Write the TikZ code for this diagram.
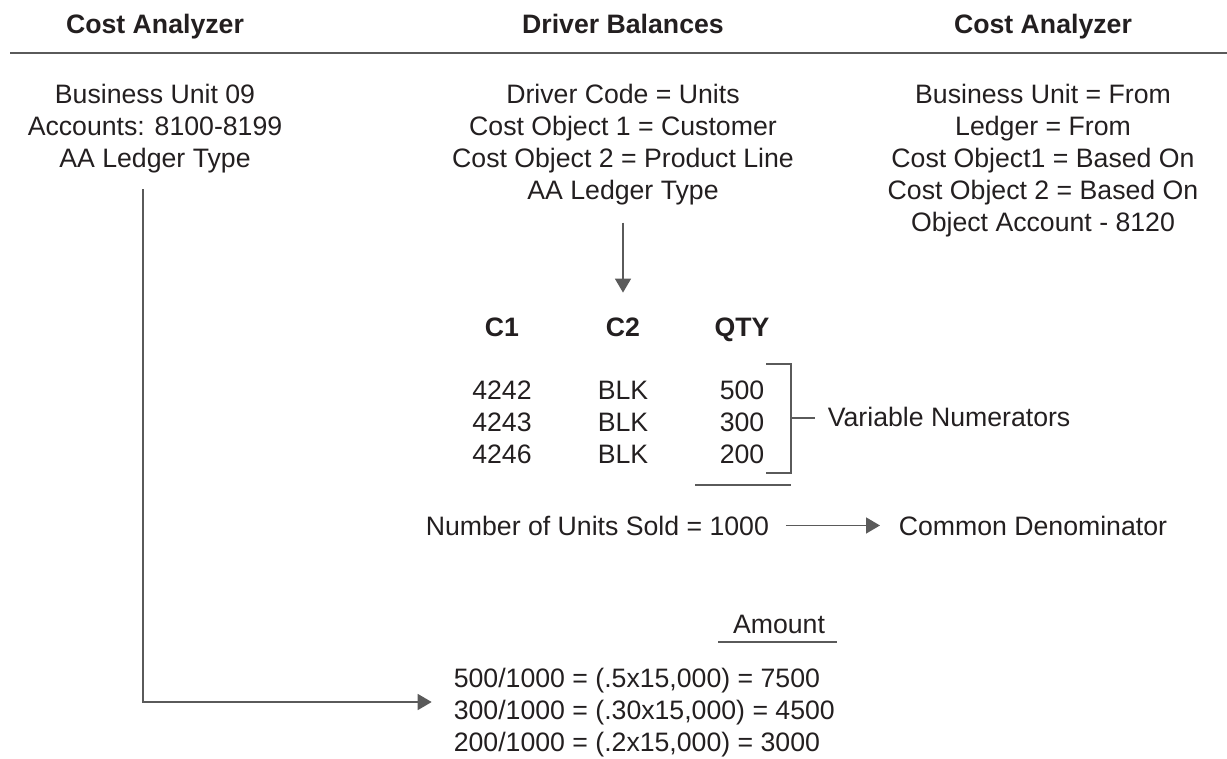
\documentclass[tikz,border=0pt]{standalone}
\usepackage{fontspec}
\setmainfont{Liberation Sans}
\usetikzlibrary{arrows.meta}
\definecolor{linegray}{RGB}{90,90,90}
\definecolor{inkblack}{RGB}{35,31,32}
\begin{document}
\begin{tikzpicture}[x=0.75pt,y=-0.75pt,line width=1.2pt,
  flow/.style={draw=linegray, -{Triangle[length=10.5pt,width=12pt]}},
  rule/.style={draw=linegray},
  main node/.style={inner sep=0pt, text=inkblack, align=center, font=\fontsize{20}{24}\selectfont},
  head node/.style={main node, font=\fontsize{20}{24}\selectfont\bfseries}]

\useasboundingbox (0,0) rectangle (1227,758);

\node[head node, anchor=base] (h1) at (155,33) {Cost Analyzer};
\node[head node, anchor=base] (h2) at (623,33) {Driver Balances};
\node[head node, anchor=base] (h3) at (1043,33) {Cost Analyzer};
\draw[rule] (10,53) -- (1227,53);

\node[main node, anchor=base] (1) at (155,167) {Business Unit 09\\Accounts: 8100-8199\\AA Ledger Type};
\node[main node, anchor=base] (2) at (623,199) {Driver Code = Units\\Cost Object 1 = Customer\\Cost Object 2 = Product Line\\AA Ledger Type};
\node[main node, anchor=base] (3) at (1043,231) {Business Unit = From\\Ledger = From\\Cost Object1 = Based On\\Cost Object 2 = Based On\\Object Account - 8120};

\node[head node, anchor=base] (4) at (502,336) {C1};
\node[head node, anchor=base] (5) at (623,336) {C2};
\node[head node, anchor=base] (6) at (742,336) {QTY};
\node[main node, anchor=base] (7) at (502,463) {4242\\4243\\4246};
\node[main node, anchor=base] (8) at (623,463) {BLK\\BLK\\BLK};
\node[main node, anchor=base] (9) at (742,463) {500\\300\\200};
\draw[flow, shorten <=13pt, shorten >=18pt] (2) -- (5);

\draw[rule] (766,364) -| (791,473) -- (766,473);
\draw[rule] (695,485) -- (791,485);
\coordinate (b) at (791,418);
\node[main node, anchor=base west] (10) at (827,426) {Variable Numerators};
\draw[rule, shorten >=9pt] (b) -- (b -| 10.west);

\node[main node, anchor=base west] (11) at (425,535) {Number of Units Sold = 1000};
\node[main node, anchor=base west] (12) at (898,535) {Common Denominator};
\draw[flow, shorten <=12pt, shorten >=13.5pt] (11) -- (12);

\node[main node, anchor=base] (13) at (779,633) {Amount};
\draw[rule] (718,642) -- (837,642);
\node[main node, align=left, anchor=base west] (14) at (453,751) {500/1000 = (.5x15,000) = 7500\\300/1000 = (.30x15,000) = 4500\\200/1000 = (.2x15,000) = 3000};

\coordinate (t) at (143,702);
\draw[flow, shorten <=12pt, shorten >=16pt] (1.south -| t) -- (t) -- (t -| 14.west);
\end{tikzpicture}
\end{document}
